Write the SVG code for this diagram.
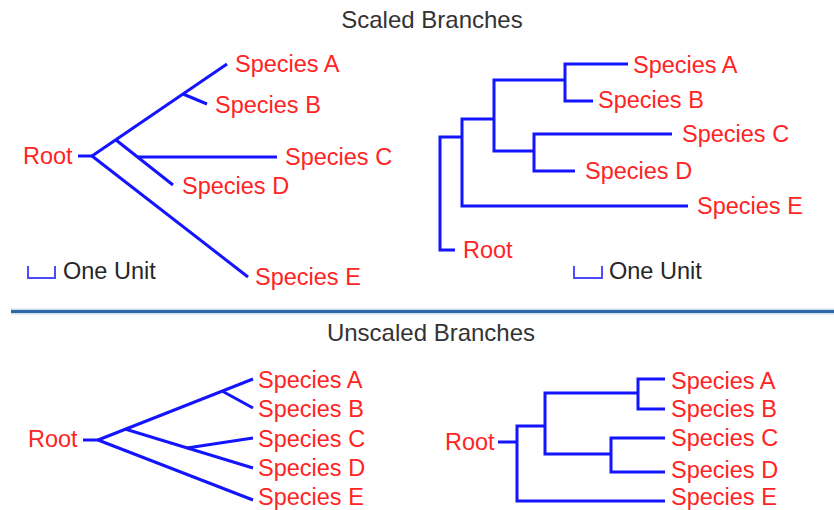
<svg xmlns="http://www.w3.org/2000/svg" width="834" height="510" viewBox="0 0 834 510">
<style>
.title{font-family:"Liberation Sans",Arial,sans-serif;font-size:24px;fill:#333333;text-anchor:middle}
.lbl{font-family:"Liberation Sans",Arial,sans-serif;font-size:23.5px;fill:#ff2424}
.unit{font-family:"Liberation Sans",Arial,sans-serif;font-size:23.5px;fill:#262626}
.br{fill:none;stroke:#1414ff;stroke-width:3;stroke-linejoin:miter;stroke-linecap:butt}
.scale{fill:none;stroke:#4a4aff;stroke-width:2}
</style>
<rect width="834" height="510" fill="#ffffff"/>
<text class="title" x="432" y="28">Scaled Branches</text>
<text class="title" x="431" y="341">Unscaled Branches</text>
<line x1="11" y1="311.5" x2="834" y2="311.5" stroke="#cfdcea" stroke-width="6"/>
<line x1="11" y1="311.5" x2="834" y2="311.5" stroke="#2f68a8" stroke-width="3"/>

<g id="connectors">
  <!-- scaled radial tree -->
  <path class="br" d="M78 156 H92"/>
  <path class="br" d="M92 156 L227 64"/>
  <path class="br" d="M92 156 L248 277"/>
  <path class="br" d="M116 140 L173 185"/>
  <path class="br" d="M138 157 H277"/>
  <path class="br" d="M183 94 L207 104"/>
  <!-- scaled rectangular tree -->
  <path class="br" d="M455 250 H440 V137 H462"/>
  <path class="br" d="M494 119 H462 V206 H688"/>
  <path class="br" d="M534 151 H494 V80 H565"/>
  <path class="br" d="M628 64 H565 V101 H593"/>
  <path class="br" d="M672 134 H534 V171 H575"/>
  <!-- unscaled radial tree -->
  <path class="br" d="M83 440 H98"/>
  <path class="br" d="M98 440 L253 379"/>
  <path class="br" d="M98 440 L253 500"/>
  <path class="br" d="M125 429 L253 468"/>
  <path class="br" d="M187 448 L253 438"/>
  <path class="br" d="M222 391 L253 408"/>
  <!-- unscaled rectangular tree -->
  <path class="br" d="M498 442 H517"/>
  <path class="br" d="M545 426 H517 V501 H665"/>
  <path class="br" d="M611 454 H545 V393 H638"/>
  <path class="br" d="M665 379 H638 V409 H665"/>
  <path class="br" d="M665 438 H611 V472 H665"/>
</g>

<g id="scale-left"><path class="scale" d="M28 266 V278 H55 V266"/><text class="unit" x="63" y="279">One Unit</text></g>
<g id="scale-right"><path class="scale" d="M574 266 V278 H602 V266"/><text class="unit" x="609" y="279">One Unit</text></g>

<g id="tl-root"><text class="lbl" x="23" y="164">Root</text></g>
<g id="tl-a"><text class="lbl" x="235" y="72">Species A</text></g>
<g id="tl-b"><text class="lbl" x="215" y="113">Species B</text></g>
<g id="tl-c"><text class="lbl" x="285" y="165">Species C</text></g>
<g id="tl-d"><text class="lbl" x="182" y="194">Species D</text></g>
<g id="tl-e"><text class="lbl" x="255" y="285">Species E</text></g>

<g id="tr-root"><text class="lbl" x="463" y="258">Root</text></g>
<g id="tr-a"><text class="lbl" x="633" y="73">Species A</text></g>
<g id="tr-b"><text class="lbl" x="598" y="108">Species B</text></g>
<g id="tr-c"><text class="lbl" x="682" y="142">Species C</text></g>
<g id="tr-d"><text class="lbl" x="585" y="179">Species D</text></g>
<g id="tr-e"><text class="lbl" x="697" y="214">Species E</text></g>

<g id="bl-root"><text class="lbl" x="28" y="446.5">Root</text></g>
<g id="bl-a"><text class="lbl" x="258" y="387.5">Species A</text></g>
<g id="bl-b"><text class="lbl" x="258" y="416.5">Species B</text></g>
<g id="bl-c"><text class="lbl" x="258" y="446.5">Species C</text></g>
<g id="bl-d"><text class="lbl" x="258" y="475.5">Species D</text></g>
<g id="bl-e"><text class="lbl" x="258" y="504.5">Species E</text></g>

<g id="br-root"><text class="lbl" x="445" y="449.5">Root</text></g>
<g id="br-a"><text class="lbl" x="671" y="388.5">Species A</text></g>
<g id="br-b"><text class="lbl" x="671" y="416.5">Species B</text></g>
<g id="br-c"><text class="lbl" x="671" y="445.5">Species C</text></g>
<g id="br-d"><text class="lbl" x="671" y="477.5">Species D</text></g>
<g id="br-e"><text class="lbl" x="671" y="504.5">Species E</text></g>
</svg>
